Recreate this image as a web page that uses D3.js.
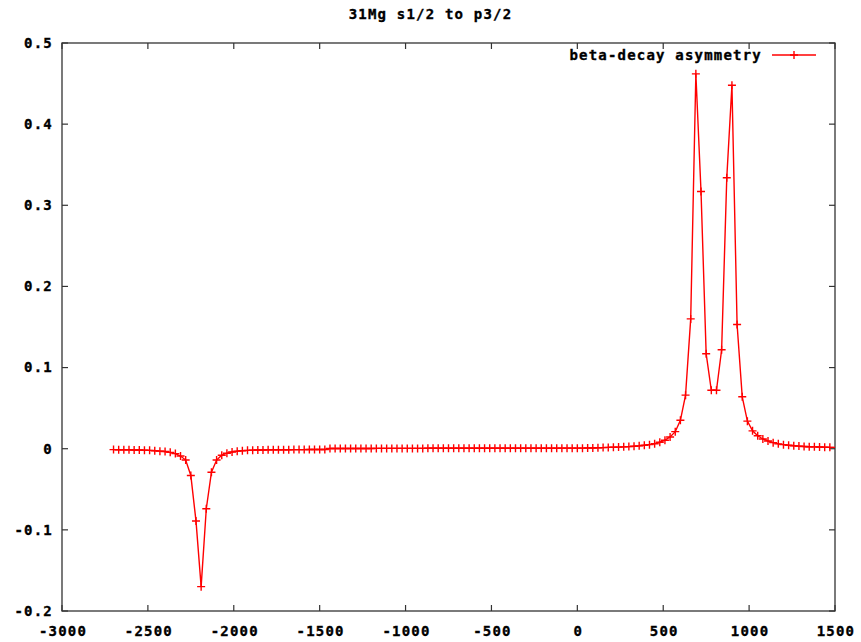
<!DOCTYPE html>
<html>
<head>
<meta charset="utf-8">
<script src="https://cdn.jsdelivr.net/npm/d3@7"></script>
<style>
  html, body { margin: 0; padding: 0; background: #fff; }
  svg text { font-family: "DejaVu Sans Mono", "Liberation Mono", monospace; font-weight: bold; font-size: 14px; letter-spacing: 1.2px; fill: #000; stroke: #000; stroke-width: 0.35px; }
</style>
</head>
<body>
<svg id="chart"></svg>
<script>
(function () {

  var width = 861, height = 642;
  var margin = { left: 62, right: 26, top: 43, bottom: 31 };

  var title = '31Mg s1/2 to p3/2';
  var seriesName = 'beta-decay asymmetry';

  var xTicks = [-3000, -2500, -2000, -1500, -1000, -500, 0, 500, 1000, 1500];
  var yTicks = [-0.2, -0.1, 0, 0.1, 0.2, 0.3, 0.4, 0.5];

  // detuning values
  var xs = [
    -2700, -2670, -2640, -2610, -2580, -2550, -2520, -2490, -2460, -2430,
    -2400, -2370, -2340, -2310, -2280, -2250, -2220, -2190, -2160, -2130,
    -2100, -2070, -2040, -2010, -1980, -1950, -1920, -1890, -1860, -1830,
    -1800, -1770, -1740, -1710, -1680, -1650, -1620, -1590, -1560, -1530,
    -1500, -1470, -1440, -1410, -1380, -1350, -1320, -1290, -1260, -1230,
    -1200, -1170, -1140, -1110, -1080, -1050, -1020, -990, -960, -930,
    -900, -870, -840, -810, -780, -750, -720, -690, -660, -630,
    -600, -570, -540, -510, -480, -450, -420, -390, -360, -330,
    -300, -270, -240, -210, -180, -150, -120, -90, -60, -30,
    0, 30, 60, 90, 120, 150, 180, 210, 240, 270,
    300, 330, 360, 390, 420, 450, 480, 510, 540, 570,
    600, 630, 660, 690, 720, 750, 780, 810, 840, 870,
    900, 930, 960, 990, 1020, 1050, 1080, 1110, 1140, 1170,
    1200, 1230, 1260, 1290, 1320, 1350, 1380, 1410, 1440, 1470,
    1500
  ];

  // asymmetry values
  var ys = [
    -0.0011, -0.0012, -0.0012, -0.0013, -0.0015, -0.0016, -0.0018, -0.0020, -0.0025, -0.0030,
    -0.0035, -0.0045, -0.0060, -0.0090, -0.0140, -0.0330, -0.0890, -0.1700, -0.0740, -0.0290,
    -0.0140, -0.0080, -0.0055, -0.0040, -0.0030, -0.0025, -0.0020, -0.0018, -0.0016, -0.0015,
    -0.0014, -0.0013, -0.0013, -0.0012, -0.0012, -0.0011, -0.0011, -0.0011, -0.0010, -0.0010,
    -0.0010, -0.0010, 0.0003, 0.0003, 0.0003, 0.0003, 0.0003, 0.0003, 0.0003, 0.0003,
    0.0003, 0.0004, 0.0004, 0.0004, 0.0004, 0.0004, 0.0004, 0.0004, 0.0004, 0.0004,
    0.0004, 0.0005, 0.0005, 0.0005, 0.0005, 0.0005, 0.0005, 0.0005, 0.0005, 0.0005,
    0.0005, 0.0005, 0.0005, 0.0005, 0.0005, 0.0006, 0.0006, 0.0006, 0.0006, 0.0006,
    0.0006, 0.0006, 0.0006, 0.0006, 0.0006, 0.0006, 0.0006, 0.0007, 0.0007, 0.0007,
    0.0007, 0.0007, 0.0008, 0.0009, 0.0012, 0.0014, 0.0016, 0.0018, 0.0020, 0.0023,
    0.0026, 0.0030, 0.0035, 0.0042, 0.0050, 0.0062, 0.0080, 0.0105, 0.0145, 0.0210,
    0.0350, 0.0660, 0.1600, 0.4620, 0.3170, 0.1170, 0.0720, 0.0720, 0.1220, 0.3340,
    0.4480, 0.1530, 0.0640, 0.0340, 0.0220, 0.0160, 0.0120, 0.0095, 0.0075, 0.0060,
    0.0050, 0.0042, 0.0036, 0.0032, 0.0028, 0.0025, 0.0023, 0.0021, 0.0019, 0.0017,
    0.0016
  ];

  var data = xs.map(function (x, i) { return { x: x, y: ys[i] }; });

  var svg = d3.select('#chart')
    .attr('width', width)
    .attr('height', height);

  var x = d3.scaleLinear().domain([-3000, 1500]).range([margin.left, width - margin.right]);
  var y = d3.scaleLinear().domain([-0.2, 0.5]).range([height - margin.bottom, margin.top]);

  var tickLen = 6;
  var axisColor = '#333';

  // title
  svg.append('text')
    .attr('x', width / 2)
    .attr('y', 14)
    .attr('dy', '0.35em')
    .attr('text-anchor', 'middle')
    .text(title);

  // ticks (inward, mirrored on all sides)
  var g = svg.append('g');
  xTicks.forEach(function (t) {
    g.append('line').attr('x1', x(t)).attr('x2', x(t))
      .attr('y1', y(-0.2)).attr('y2', y(-0.2) - tickLen)
      .attr('stroke', axisColor).attr('stroke-width', 1.2);
    g.append('line').attr('x1', x(t)).attr('x2', x(t))
      .attr('y1', y(0.5)).attr('y2', y(0.5) + tickLen)
      .attr('stroke', axisColor).attr('stroke-width', 1.2);
    g.append('text')
      .attr('x', x(t) + 1)
      .attr('y', y(-0.2) + 20)
      .attr('dy', '0.35em')
      .attr('text-anchor', 'middle')
      .text(t);
  });
  yTicks.forEach(function (t) {
    g.append('line').attr('x1', x(-3000)).attr('x2', x(-3000) + tickLen)
      .attr('y1', y(t)).attr('y2', y(t))
      .attr('stroke', axisColor).attr('stroke-width', 1.2);
    g.append('line').attr('x1', x(1500)).attr('x2', x(1500) - tickLen)
      .attr('y1', y(t)).attr('y2', y(t))
      .attr('stroke', axisColor).attr('stroke-width', 1.2);
    g.append('text')
      .attr('x', x(-3000) - 9)
      .attr('y', y(t))
      .attr('dy', '0.35em')
      .attr('text-anchor', 'end')
      .text(t === 0 ? '0' : t.toFixed(1));
  });

  // border
  svg.append('rect')
    .attr('x', x(-3000)).attr('y', y(0.5))
    .attr('width', x(1500) - x(-3000))
    .attr('height', y(-0.2) - y(0.5))
    .attr('fill', 'none')
    .attr('stroke', axisColor)
    .attr('stroke-width', 1.3);

  // series line
  var line = d3.line().x(function (d) { return x(d.x); }).y(function (d) { return y(d.y); });
  svg.append('path')
    .datum(data)
    .attr('d', line)
    .attr('fill', 'none')
    .attr('stroke', '#ff0000')
    .attr('stroke-width', 1.4);

  // '+' markers
  var cross = 4;
  var crossPath = function (cx, cy) {
    return 'M' + (cx - cross) + ',' + cy + 'H' + (cx + cross) +
      'M' + cx + ',' + (cy - cross) + 'V' + (cy + cross);
  };
  svg.append('g').selectAll('path')
    .data(data.filter(function (d) { return x(d.x) + cross < x(1500); }))
    .join('path')
    .attr('d', function (d) { return crossPath(x(d.x), y(d.y)); })
    .attr('fill', 'none')
    .attr('stroke', '#ff0000')
    .attr('stroke-width', 1.4);

  // legend
  var lg = svg.append('g');
  lg.append('text')
    .attr('x', 762)
    .attr('y', 55)
    .attr('dy', '0.35em')
    .attr('text-anchor', 'end')
    .text(seriesName);
  lg.append('line')
    .attr('x1', 772).attr('x2', 816)
    .attr('y1', 55).attr('y2', 55)
    .attr('stroke', '#ff0000').attr('stroke-width', 1.4);
  lg.append('path')
    .attr('d', crossPath(794, 55))
    .attr('stroke', '#ff0000').attr('stroke-width', 1.4);

})();
</script>
</body>
</html>
